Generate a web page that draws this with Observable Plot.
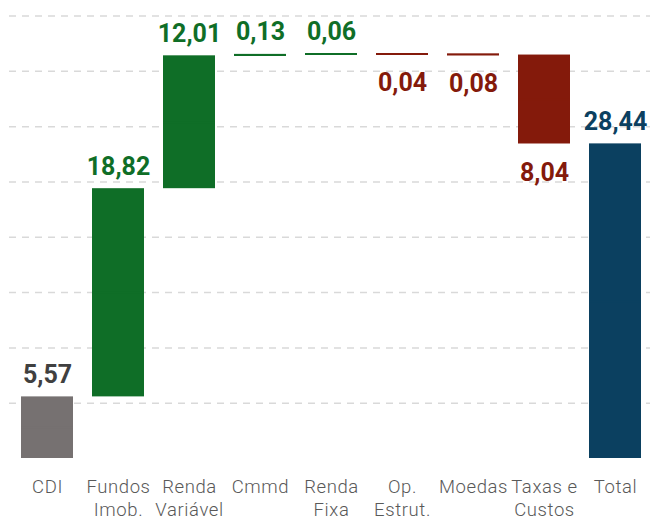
<!DOCTYPE html>
<html>
<head>
<meta charset="utf-8">
<script src="https://cdn.jsdelivr.net/npm/d3@7"></script>
<script src="https://cdn.jsdelivr.net/npm/@observablehq/plot@0.6"></script>
<style>
  html, body { margin: 0; padding: 0; background: #fff; }
  #chart svg { display: block; }
  g[aria-label="value-label"] text { letter-spacing: 1px; }
  g[aria-label="x-axis tick label"] text { letter-spacing: 0.6px; }
</style>
</head>
<body>
<div id="chart"></div>
<script>
const categories = ["CDI", "Fundos\nImob.", "Renda\nVariável", "Cmmd", "Renda\nFixa", "Op.\nEstrut.", "Moedas", "Taxas e\nCustos", "Total"];
const values = [5.57, 18.82, 12.01, 0.13, 0.06, -0.04, -0.08, -8.04, 28.44];
const kinds = ["base", "up", "up", "up", "up", "down", "down", "down", "total"];
const gridTicks = [5, 10, 15, 20, 25, 30, 35, 40];

const barColors = {base: "#767171", up: "#0f6e27", down: "#841a0b", total: "#0b4060"};
const labelColors = {base: "#404040", up: "#0f6e27", down: "#841a0b", total: "#0b4060"};

let running = 0;
const rows = categories.map((cat, i) => {
  const v = values[i];
  let start, end;
  if (kinds[i] === "base" || kinds[i] === "total") { start = 0; end = v; running = v; }
  else { start = running; end = running + v; running = end; }
  return {
    cat, kind: kinds[i], start, end,
    lo: Math.min(start, end), hi: Math.max(start, end),
    label: Math.abs(v).toFixed(2).replace(".", ",")
  };
});
const upRows = rows.filter(d => d.kind !== "down");
const downRows = rows.filter(d => d.kind === "down");

const chart = Plot.plot({
  width: 655,
  height: 516,
  marginTop: 15.5,
  marginBottom: 58,
  marginLeft: 9,
  marginRight: 5,
  style: {fontFamily: "Roboto, 'Noto Sans', sans-serif", background: "#fff"},
  x: {domain: categories, range: [9, 652], paddingInner: 0.27, paddingOuter: 0.14, label: null},
  y: {domain: [0, 40], axis: null},
  marks: [
    Plot.ruleY(gridTicks, {stroke: "#d9d9d9", strokeWidth: 1.5, strokeDasharray: "7,6"}),
    Plot.ruleY([0], {stroke: "#d9d9d9", strokeWidth: 2, x1: 9, x2: 645}),
    Plot.barY(rows, {x: "cat", y1: "start", y2: "end", fill: d => barColors[d.kind]}),
    Plot.tickY(rows, {x: "cat", y: d => (d.start + d.end) / 2, stroke: d => barColors[d.kind], strokeWidth: 2}),
    Plot.text(upRows, {x: "cat", y: "hi", text: "label", fill: d => labelColors[d.kind], lineAnchor: "bottom", dy: -14, fontSize: 25, fontWeight: 700, ariaLabel: "value-label"}),
    Plot.text(downRows, {x: "cat", y: "lo", text: "label", fill: d => labelColors[d.kind], lineAnchor: "top", dy: 19, fontSize: 25, fontWeight: 700, ariaLabel: "value-label"}),
    Plot.axisX({tickSize: 0, tickPadding: 18.5, fontSize: 18.5, lineHeight: 1.23, fill: "#595959", fontWeight: 300, label: null})
  ]
});
document.getElementById("chart").appendChild(chart);
</script>
</body>
</html>
